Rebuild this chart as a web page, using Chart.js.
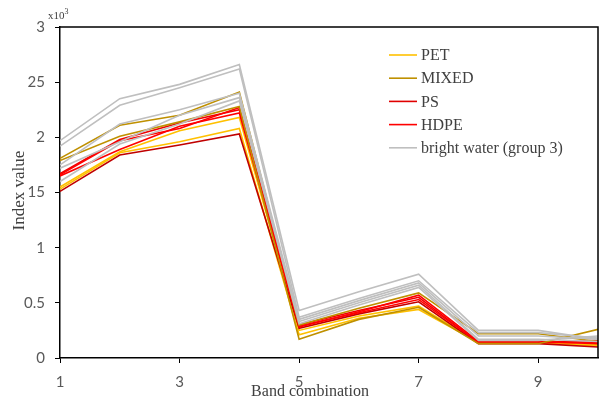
<!DOCTYPE html>
<html><head><meta charset="utf-8">
<script src="https://cdn.jsdelivr.net/npm/chart.js@4/dist/chart.umd.min.js"></script>
<style>html,body{margin:0;padding:0;background:#fff}#wrap{width:602px;height:402px}</style>
</head><body><div id="wrap"><canvas id="c" width="602" height="402"></canvas></div>
<script>
// ---- data (values in thousands) ----
const bands = [1, 2, 3, 4, 5, 6, 7, 8, 9, 10];
const xTicks = [1, 3, 5, 7, 9];
const yTicks = [0, 0.5, 1, 1.5, 2, 2.5, 3];
const yTickLabels = ['0', '0.5', '1', '15', '2', '25', '3'];
const seriesNames = ['PET', 'MIXED', 'PS', 'HDPE', 'bright water (group 3)'];
const xTitle = 'Band combination';
const yTitle = 'Index value';

const pet1 = [1.55, 1.87, 2.06, 2.18, 0.25, 0.38, 0.47, 0.14, 0.14, 0.12];
const pet2 = [1.53, 1.86, 1.96, 2.08, 0.21, 0.36, 0.44, 0.14, 0.14, 0.11];
const mixed1 = [1.81, 2.11, 2.20, 2.41, 0.30, 0.45, 0.59, 0.22, 0.22, 0.15];
const mixed2 = [1.79, 2.01, 2.14, 2.28, 0.17, 0.35, 0.46, 0.13, 0.13, 0.26];
const ps1 = [1.51, 1.84, 1.93, 2.03, 0.27, 0.40, 0.51, 0.13, 0.13, 0.10];
const ps2 = [1.67, 1.98, 2.13, 2.25, 0.30, 0.43, 0.55, 0.14, 0.14, 0.16];
const hdpe1 = [1.65, 1.89, 2.10, 2.22, 0.28, 0.42, 0.57, 0.15, 0.15, 0.13];
const hdpe2 = [1.66, 1.97, 2.08, 2.27, 0.29, 0.41, 0.53, 0.14, 0.14, 0.14];
const water1 = [1.97, 2.35, 2.48, 2.66, 0.43, 0.60, 0.76, 0.25, 0.25, 0.17];
const water2 = [1.92, 2.29, 2.45, 2.62, 0.37, 0.54, 0.70, 0.23, 0.23, 0.18];
const water3 = [1.75, 2.12, 2.25, 2.40, 0.35, 0.52, 0.68, 0.20, 0.20, 0.17];
const water4 = [1.72, 1.96, 2.20, 2.36, 0.33, 0.50, 0.66, 0.17, 0.17, 0.15];
const water5 = [1.60, 1.94, 2.12, 2.33, 0.31, 0.48, 0.64, 0.16, 0.16, 0.20];

// ---- styles ----
const groupColors = ['#FFC000', '#BF9000', '#E00000', '#FF0000', '#BFBFBF'];
const lineSets = [
  [water1, 4, '#BFBFBF'], [water2, 4, '#BFBFBF'], [water3, 4, '#BFBFBF'], [water4, 4, '#BFBFBF'], [water5, 4, '#BFBFBF'],
  [mixed1, 1, '#BF9000'], [mixed2, 1, '#BF9000'],
  [hdpe1, 3, '#FF0000'], [hdpe2, 3, '#FF0000'],
  [ps1, 2, '#C00000'], [ps2, 2, '#F00000'],
  [pet1, 0, '#FFC000'], [pet2, 0, '#FFC000']
];

const datasets = lineSets.map(([vals, g, col]) => ({
  label: seriesNames[g],
  data: bands.map((b, i) => ({ x: b, y: vals[i] })),
  borderColor: col,
  borderWidth: 1.6,
  pointRadius: 0,
  fill: false,
  tension: 0
}));

const extras = {
  id: 'extras',
  afterDraw(chart) {
    const { ctx, chartArea: a } = chart;
    ctx.save();
    // top & right frame
    ctx.strokeStyle = '#000';
    ctx.lineWidth = 1.5;
    ctx.beginPath();
    ctx.moveTo(a.left, a.top);
    ctx.lineTo(a.right, a.top);
    ctx.lineTo(a.right, a.bottom);
    ctx.stroke();
    // x10^3 multiplier
    ctx.fillStyle = '#404040';
    ctx.textBaseline = 'alphabetic';
    ctx.font = '11px "Liberation Serif"';
    ctx.fillText('x10', a.left - 12, a.top - 8);
    const w = ctx.measureText('x10').width;
    ctx.font = '8px "Liberation Serif"';
    ctx.fillText('3', a.left - 12 + w, a.top - 13);
    // axis titles
    ctx.font = '16px "Liberation Serif"';
    ctx.textAlign = 'center';
    ctx.textBaseline = 'middle';
    ctx.fillText(xTitle, a.left + 250, 392);
    ctx.save();
    ctx.translate(20, (a.top + a.bottom) / 2 - 2);
    ctx.rotate(-Math.PI / 2);
    ctx.font = '17px "Liberation Serif"';
    ctx.fillText(yTitle, 0, 0);
    ctx.restore();
    // legend
    ctx.textAlign = 'left';
    const lx = a.left + 329, ly = a.top + 28, step = 23.2;
    ctx.font = '16px "Liberation Serif"';
    ctx.textBaseline = 'middle';
    seriesNames.forEach((n, i) => {
      const y = ly + i * step;
      ctx.strokeStyle = groupColors[i];
      ctx.lineWidth = 1.6;
      ctx.beginPath();
      ctx.moveTo(lx, y);
      ctx.lineTo(lx + 28, y);
      ctx.stroke();
      ctx.fillStyle = '#404040';
      ctx.fillText(n, lx + 32, y + 1);
    });
    ctx.restore();
  }
};

new Chart(document.getElementById('c'), {
  type: 'line',
  data: { datasets },
  plugins: [extras],
  options: {
    responsive: false,
    devicePixelRatio: 1,
    animation: false,
    layout: { padding: { top: 27, right: 4, left: 0, bottom: 0 } },
    plugins: { legend: { display: false }, tooltip: { enabled: false } },
    scales: {
      x: {
        type: 'linear', min: 1, max: 10,
        afterBuildTicks: s => { s.ticks = xTicks.map(v => ({ value: v })); },
        afterFit: s => { s.height = 44; },
        grid: { display: true, drawOnChartArea: false, drawTicks: true, tickLength: 5, color: '#000' },
        border: { color: '#000', width: 1.5 },
        ticks: { color: '#595959', font: { family: 'Lato', size: 15 }, padding: 10, maxRotation: 0, autoSkip: false }
      },
      y: {
        type: 'linear', min: 0, max: 3,
        afterBuildTicks: s => { s.ticks = yTicks.map(v => ({ value: v })); },
        afterFit: s => { s.width = 60; },
        grid: { display: true, drawOnChartArea: false, drawTicks: true, tickLength: 5, color: '#000' },
        border: { color: '#000', width: 1.5 },
        ticks: { color: '#595959', font: { family: 'Lato', size: 15 }, padding: 10, autoSkip: false,
          callback: (v, i) => yTickLabels[i] }
      }
    }
  }
});
</script></body></html>
